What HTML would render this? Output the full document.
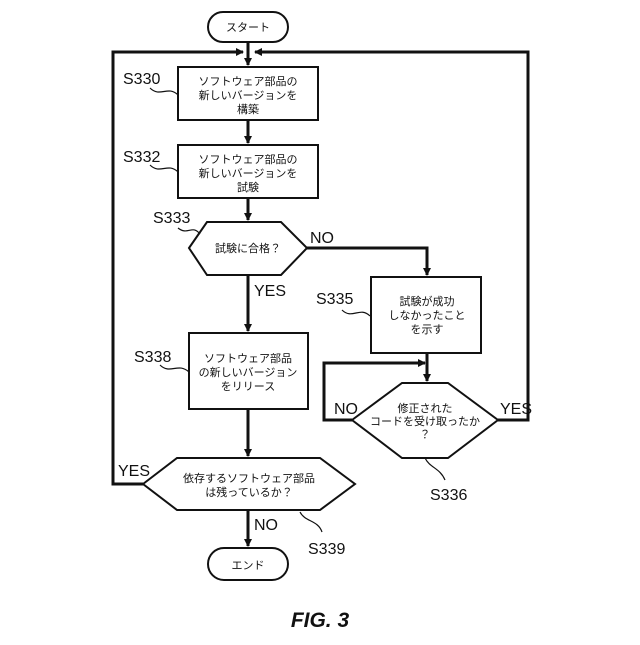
<!DOCTYPE html>
<html><head><meta charset="utf-8"><style>
body{margin:0;background:#fff}
svg text{font-family:"Liberation Sans","Noto Sans CJK JP",sans-serif;fill:#111}
.j{font-size:11px;text-anchor:middle}
.l{font-size:16px;font-family:"Liberation Sans Narrow","Liberation Sans",sans-serif}
</style></head><body>
<svg width="640" height="640" viewBox="0 0 640 640" xmlns="http://www.w3.org/2000/svg">
<defs><marker id="a" markerWidth="8" markerHeight="8" refX="7" refY="4" orient="auto" markerUnits="userSpaceOnUse"><path d="M0,0 L8,4 L0,8z" fill="#111"/></marker></defs>
<g fill="none" stroke="#111" stroke-width="2">
<rect x="208" y="12" width="80" height="30" rx="15"/>
<rect x="208" y="548" width="80" height="32" rx="16"/>
<rect x="178" y="67" width="140" height="53"/>
<rect x="178" y="145" width="140" height="53"/>
<polygon points="189,248 207,222 281,222 307,248 281,275 207,275"/>
<rect x="371" y="277" width="110" height="76"/>
<rect x="189" y="333" width="119" height="76"/>
<polygon points="352,420 402,383 448,383 498,420 448,458 402,458"/>
<polygon points="143,484 177,458 320,458 355,484 320,510 177,510"/>
</g>
<g fill="none" stroke="#111" stroke-width="3">
<line x1="248" y1="42" x2="248" y2="65" marker-end="url(#a)"/>
<line x1="248" y1="120" x2="248" y2="143" marker-end="url(#a)"/>
<line x1="248" y1="198" x2="248" y2="220" marker-end="url(#a)"/>
<line x1="248" y1="275" x2="248" y2="331" marker-end="url(#a)"/>
<line x1="248" y1="409" x2="248" y2="456" marker-end="url(#a)"/>
<line x1="248" y1="510" x2="248" y2="546" marker-end="url(#a)"/>
<polyline points="307,248 427,248 427,275" marker-end="url(#a)"/>
<line x1="427" y1="353" x2="427" y2="381" marker-end="url(#a)"/>
<polyline points="352,420 324,420 324,363 425,363" marker-end="url(#a)"/>
<polyline points="498,420 528,420 528,52 255,52" marker-end="url(#a)"/>
<polyline points="143,484 113,484 113,52 243,52" marker-end="url(#a)"/>
</g>
<g fill="none" stroke="#111" stroke-width="1.2">
<path d="M150,88 C160,98 168,85 178,95"/>
<path d="M150,165 C160,175 168,162 178,172"/>
<path d="M178,228 C188,236 192,224 200,234"/>
<path d="M342,310 C352,320 360,306 370,316"/>
<path d="M160,365 C170,375 178,362 189,372"/>
<path d="M425,458 C430,468 440,468 445,480"/>
<path d="M300,512 C305,522 318,520 322,532"/>
</g>
<text class="j" x="248" y="31">スタート</text>
<text class="j" x="248" y="569">エンド</text>
<text class="j" x="248" y="85">ソフトウェア部品の</text><text class="j" x="248" y="99">新しいバージョンを</text><text class="j" x="248" y="113">構築</text>
<text class="j" x="248" y="163">ソフトウェア部品の</text><text class="j" x="248" y="177">新しいバージョンを</text><text class="j" x="248" y="191">試験</text>
<text class="j" x="248" y="252">試験に合格？</text>
<text class="j" x="427" y="305">試験が成功</text><text class="j" x="427" y="319">しなかったこと</text><text class="j" x="427" y="333">を示す</text>
<text class="j" x="248" y="362">ソフトウェア部品</text><text class="j" x="248" y="376">の新しいバージョン</text><text class="j" x="248" y="390">をリリース</text>
<text class="j" x="425" y="412">修正された</text><text class="j" x="425" y="425">コードを受け取ったか</text><text class="j" x="425" y="438">？</text>
<text class="j" x="249" y="482">依存するソフトウェア部品</text><text class="j" x="249" y="496">は残っているか？</text>
<g class="l">
<text class="l" x="123" y="84" transform="scale(1,1)">S330</text>
<text class="l" x="123" y="162">S332</text>
<text class="l" x="153" y="223">S333</text>
<text class="l" x="310" y="243">NO</text>
<text class="l" x="254" y="296">YES</text>
<text class="l" x="316" y="304">S335</text>
<text class="l" x="134" y="362">S338</text>
<text class="l" x="334" y="414">NO</text>
<text class="l" x="500" y="414">YES</text>
<text class="l" x="118" y="476">YES</text>
<text class="l" x="430" y="500">S336</text>
<text class="l" x="254" y="530">NO</text>
<text class="l" x="308" y="554">S339</text>
</g>
<text x="320" y="627" style="font-size:21px;font-weight:bold;font-style:italic;text-anchor:middle">FIG. 3</text>
</svg>
</body></html>
